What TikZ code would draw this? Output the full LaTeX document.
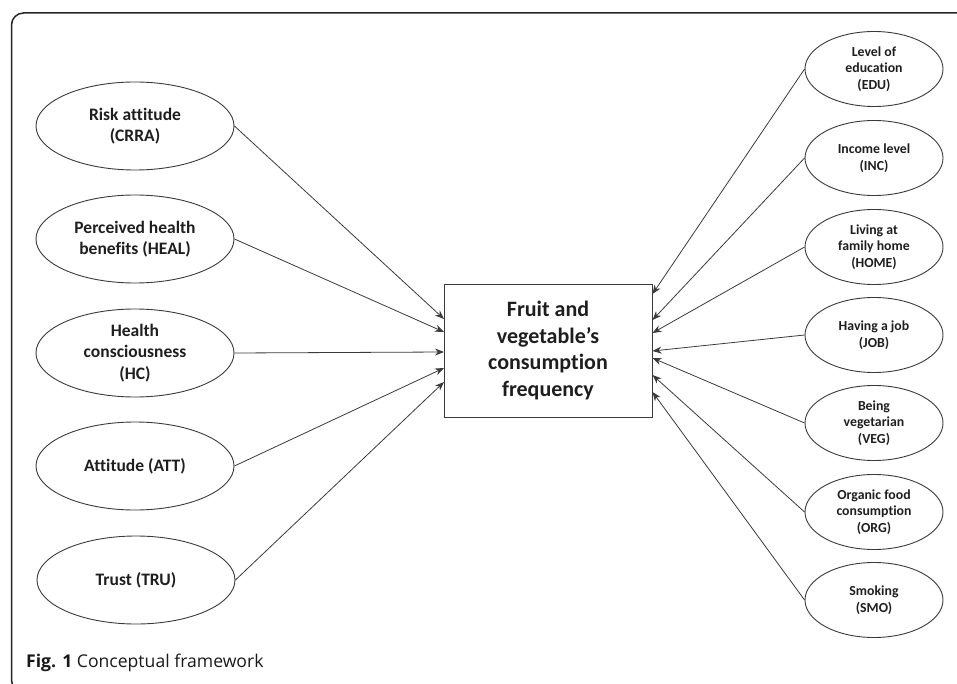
\documentclass[tikz,border=0pt]{standalone}
\usepackage{fontspec}
\setmainfont{Carlito}[Ligatures=NoCommon]
\newfontfamily\capfont{Open Sans}
\usetikzlibrary{shapes.geometric,arrows.meta}
\definecolor{ln}{HTML}{3A3A3A}
\definecolor{tx}{HTML}{1E1E1E}
\tikzset{
  lell/.style={draw=ln,line width=0.9pt,ellipse,minimum width=198pt,minimum height=88pt,inner sep=0pt,align=center,text=tx,font=\bfseries\fontsize{17.5}{21.5}\selectfont},
  rell/.style={draw=ln,line width=0.9pt,ellipse,minimum width=138pt,minimum height=75pt,inner sep=0pt,align=center,text=tx,font=\bfseries\fontsize{13.8}{16.5}\selectfont},
  cbox/.style={draw=ln,line width=1pt,rectangle,minimum width=208pt,minimum height=133pt,inner sep=0pt,align=center,text=tx,font=\bfseries\fontsize{22}{26.5}\selectfont},
  arr/.style={draw=ln,line width=0.8pt,-{Stealth[length=9pt,width=7pt]}}
}
\begin{document}
\begin{tikzpicture}[x=1pt,y=-1pt]
\useasboundingbox (0,0) rectangle (957,684);
\begin{scope}
\clip (0,0) rectangle (957,684);
\draw[line width=1.5pt,color=black!85,rounded corners=12pt] (11.5,13) rectangle (990,692);
\end{scope}
% central box
\node[cbox] (box) at (548,350.5) {Fruit and\\vegetable’s\\consumption\\frequency};
% left ellipses
\node[lell] (crra) at (135,126) {Risk attitude\\(CRRA)};
\node[lell] (heal) at (135,239) {Perceived health\\benefits (HEAL)};
\node[lell] (hc) at (135,353) {Health\\consciousness\\(HC)};
\node[lell] (att) at (135,466) {Attitude (ATT)};
\node[lell] (tru) at (136,580) {Trust (TRU)};
% right ellipses
\node[rell] (edu) at (874,69) {Level of\\education\\(EDU)};
\node[rell] (inc) at (874,158) {Income level\\(INC)};
\node[rell] (home) at (874,247) {Living at\\family home\\(HOME)};
\node[rell] (job) at (874,335) {Having a job\\(JOB)};
\node[rell] (veg) at (874,423) {Being\\vegetarian\\(VEG)};
\node[rell] (org) at (874,512) {Organic food\\consumption\\(ORG)};
\node[rell] (smo) at (874,600) {Smoking\\(SMO)};
% arrow targets on box
\coordinate (l1) at (444,319);
\coordinate (l2) at (444,332);
\coordinate (l3) at (444,352);
\coordinate (l4) at (444,368);
\coordinate (l5) at (444,382);
\coordinate (r1) at (652.5,294);
\coordinate (r2) at (652.5,320);
\coordinate (r3) at (652.5,333);
\coordinate (r4) at (652.5,351);
\coordinate (r5) at (652.5,358);
\coordinate (r6) at (652.5,375);
\coordinate (r7) at (652.5,392);
\draw[arr] (crra.east) -- (l1);
\draw[arr] (heal.east) -- (l2);
\draw[arr] (hc.east) -- (l3);
\draw[arr] (att.east) -- (l4);
\draw[arr] (tru.east) -- (l5);
\draw[arr] (edu.west) -- (r1);
\draw[arr] (inc.west) -- (r2);
\draw[arr] (home.west) -- (r3);
\draw[arr] (job.west) -- (r4);
\draw[arr] (veg.west) -- (r5);
\draw[arr] (org.west) -- (r6);
\draw[arr] (smo.west) -- (r7);
% caption
\node[anchor=west,inner sep=0pt,text=black!90,font=\capfont\fontsize{17.6}{20}\selectfont] (cap) at (26,663) {\textbf{Fig. 1} Conceptual framework};
\end{tikzpicture}
\end{document}
